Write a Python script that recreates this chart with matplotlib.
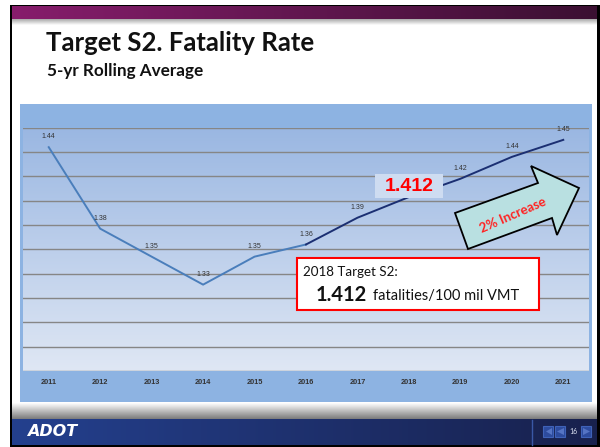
import numpy as np
import matplotlib.pyplot as plt
import matplotlib.transforms as mtransforms
from matplotlib.colors import LinearSegmentedColormap
from matplotlib.patches import Rectangle, Polygon
from matplotlib.ticker import MultipleLocator

plt.rcParams['font.family'] = ['Lato', 'DejaVu Sans']

# chart data
years = [2011, 2012, 2013, 2014, 2015, 2016, 2017, 2018, 2019, 2020, 2021]
rates = [1.444, 1.377, 1.354, 1.331, 1.354, 1.364, 1.386, 1.403, 1.418, 1.436, 1.450]
split_year = 2016      # light line up to here, dark line after
target_year = 2018
target_value = 1.412
increase_text = "2% Increase"

W, H = 600, 447
fig = plt.figure(figsize=(W / 100, H / 100), dpi=100)
fig.patch.set_facecolor('white')

bg = fig.add_axes([0, 0, 1, 1], zorder=0)
bg.set_xlim(0, W)
bg.set_ylim(H, 0)
bg.axis('off')


def gradient(ax, x0, x1, y0, y1, c0, c1, horizontal=True, z=1):
    cmap = LinearSegmentedColormap.from_list('g', [c0, c1])
    arr = np.linspace(0, 1, 256)
    arr = arr.reshape(1, -1) if horizontal else arr.reshape(-1, 1)
    ax.imshow(arr, cmap=cmap, extent=(x0, x1, y1, y0), origin='upper',
              aspect='auto', zorder=z, interpolation='bilinear')


# slide frame
bg.add_patch(Rectangle((9.5, 4.5), W - 9.5, H - 4.5, fc='black', ec='none', zorder=0))
bg.add_patch(Rectangle((12, 6), 585, 439, fc='white', ec='none', zorder=0.5))
gradient(bg, 12, 597, 6, 19, '#871D6C', '#3B1032')
gradient(bg, 12, 597, 19, 25, '#A8A8A8', '#FFFFFF', horizontal=False)
gradient(bg, 12, 597, 403, 419, '#FFFFFF', '#7A7A7A', horizontal=False)
gradient(bg, 12, 597, 419, 445, '#24408E', '#18214D')
bg.plot([532, 532], [420, 445], color='#3A58A6', lw=1, zorder=2)

# titles
bg.text(46, 51, "Target S2. Fatality Rate", fontsize=18.5, fontweight='bold',
        color='#111111', ha='left', va='baseline', zorder=3)
bg.text(47, 76, "5-yr Rolling Average", fontsize=12.3, fontweight='bold',
        color='#111111', ha='left', va='baseline', zorder=3)

# footer
bg.text(27, 432, "ADOT", family='DejaVu Sans', fontsize=11.5, fontweight='bold',
        fontstyle='italic', color='white', ha='left', va='center', zorder=3)
for x0 in (543, 555, 581):
    bg.add_patch(Rectangle((x0, 426), 10, 11, fc='#2D4B9E', ec='#3F62B8', lw=0.8, zorder=3))
bg.add_patch(Polygon([(546, 431.5), (552, 428), (552, 435)], fc='#5574C4', ec='none', zorder=4))
bg.add_patch(Polygon([(557, 431.5), (564, 428), (564, 435)], fc='#5574C4', ec='none', zorder=4))
bg.add_patch(Polygon([(590, 431.5), (583, 428), (583, 435)], fc='#5574C4', ec='none', zorder=4))
bg.text(573, 431, "16", fontsize=5, color='#DDE3F3', ha='center', va='center', zorder=4)

# chart area
bg.add_patch(Rectangle((20, 104), 572, 298, fc='#8DB3E2', ec='none', zorder=1))

left, right, top, bottom = 23, 589, 127.7, 371
ax = fig.add_axes([left / W, 1 - bottom / H, (right - left) / W, (bottom - top) / H], zorder=2)
ax.set_facecolor('none')
cmap = LinearSegmentedColormap.from_list('pa', ['#9AB7E2', '#DFE7F4'])
ax.imshow(np.linspace(0, 1, 256).reshape(-1, 1), cmap=cmap, extent=(0, 1, 0, 1),
          origin='upper', aspect='auto', transform=ax.transAxes, zorder=0)

k = years.index(split_year)
ax.plot(years[:k + 1], rates[:k + 1], color='#4A7EBB', lw=1.4, zorder=3)
ax.plot(years[k:], rates[k:], color='#1B2F72', lw=1.4, zorder=3)

# value labels (the target year's label sits under the callout box)
for yr, v in zip(years, rates):
    if yr == target_year:
        continue
    ax.annotate(f"{v:.2f}", (yr, v), xytext=(0, 7.5), textcoords='offset points',
                ha='center', va='center', fontsize=5, family='Liberation Sans',
                color='#333333', zorder=4)

ax.set_xlim(years[0] - 0.5, years[-1] + 0.5)
ax.set_ylim(1.26, 1.46)
ax.yaxis.set_major_locator(MultipleLocator(0.02))
ax.set_yticklabels([])
ax.set_xticks(years)
ax.set_xticklabels([str(y) for y in years], fontsize=5.3, fontweight='bold',
                   family='Liberation Sans', color='#333333')
ax.tick_params(length=0, pad=6)
ax.tick_params(axis='y', length=0)
ax.grid(axis='y', color='#868686', lw=1)
ax.set_axisbelow(False)
for s in ax.spines.values():
    s.set_visible(False)

# 1.412 callout at the 2018 point
trans = fig.dpi_scale_trans + mtransforms.ScaledTranslation(target_year, target_value, ax.transData)
ax.add_patch(Rectangle((-0.34, -0.12), 0.68, 0.24, transform=trans, fc='#CEDCF1',
                       ec='none', zorder=5, clip_on=False))
ax.text(target_year, target_value, f"{target_value:.3f}", family='Liberation Sans',
        fontsize=14, fontweight='bold', color='#FF0000', ha='center', va='center', zorder=6)

# overlay annotations
fg = fig.add_axes([0, 0, 1, 1], zorder=3)
fg.set_xlim(0, W)
fg.set_ylim(H, 0)
fg.axis('off')
fg.patch.set_visible(False)

arrow = [(468, 249), (455, 213), (538, 183), (531, 166), (579, 188),
         (557, 235), (552, 218)]
fg.add_patch(Polygon(arrow, closed=True, fc='#B9E0E1', ec='black', lw=1.3))
fg.text(513, 215, increase_text, rotation=23.5, fontsize=9.5, fontweight='bold',
        color='#FF2222', ha='center', va='center', rotation_mode='anchor')

fg.add_patch(Rectangle((297, 258), 242, 52, fc='white', ec='#FF0000', lw=1.5))
fg.text(303, 272, f"{target_year} Target S2:", fontsize=9.6, color='#111111',
        ha='left', va='center')
fg.text(316, 295, f"{target_value:.3f}", fontsize=14.5, fontweight='bold',
        color='#111111', ha='left', va='center')
fg.text(373, 296, "fatalities/100 mil VMT", fontsize=10.5, color='#111111',
        ha='left', va='center')

fig.savefig('out.png', dpi=100)
